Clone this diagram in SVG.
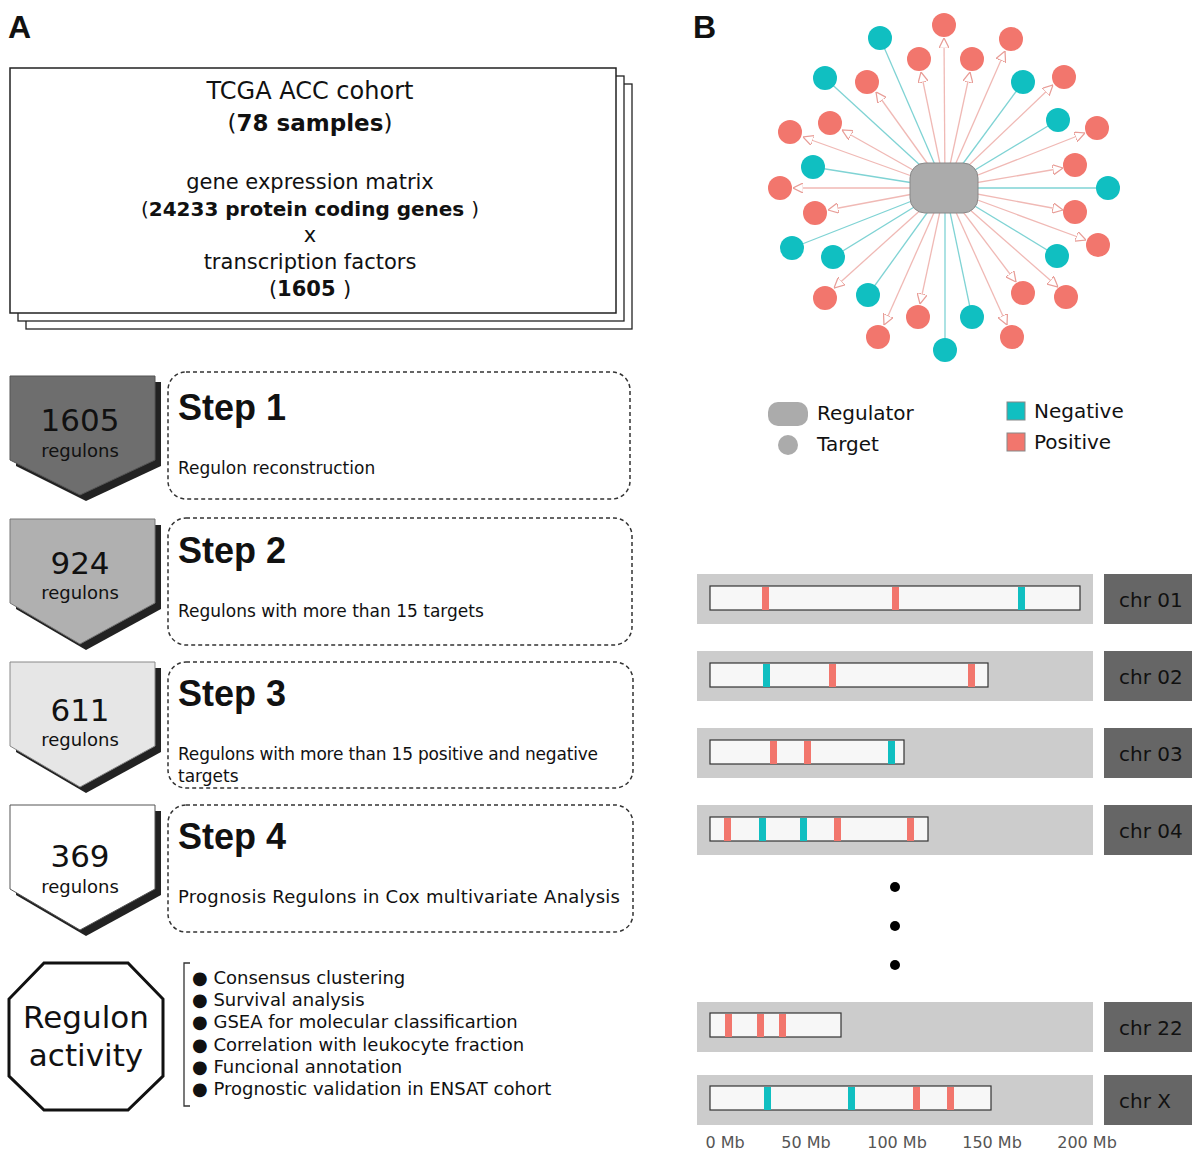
<svg xmlns="http://www.w3.org/2000/svg" width="1200" height="1158" viewBox="0 0 1200 1158">
<style>
text{font-family:"DejaVu Sans","Liberation Sans",sans-serif;fill:#111}
.b{font-weight:bold}
.h{font-family:"Liberation Sans",Arial,sans-serif;font-weight:bold}
.dash{fill:none;stroke:#333;stroke-width:1.5;stroke-dasharray:4 3}
.neg{fill:#10bfc1}.pos{fill:#f2766d}
.ln{stroke:#7fd3d4;stroke-width:1.3}.lp{stroke:#f0b9b5;stroke-width:1.3}
.bg{fill:#cccccc}.lab{fill:#666}
.chr{fill:#f7f7f7;stroke:#333;stroke-width:1.2}
</style>
<defs><marker id="ah" viewBox="0 0 10 10" refX="10" refY="5" markerWidth="8" markerHeight="8" orient="auto-start-reverse"><path d="M0,0L10,5L0,10z" fill="#fff" stroke="#e89d97" stroke-width="1.2"/></marker></defs>
<rect width="1200" height="1158" fill="#fff"/>
<text x="8" y="38" font-size="32" class="h">A</text>
<text x="693" y="38" font-size="32" class="h">B</text>
<g id="cohort">
<rect x="26" y="84" width="606" height="245" fill="#fff" stroke="#222" stroke-width="1.3"/>
<rect x="18" y="76" width="606" height="245" fill="#fff" stroke="#222" stroke-width="1.3"/>
<rect x="10" y="68" width="606" height="245" fill="#fff" stroke="#222" stroke-width="1.5"/>
<g text-anchor="middle" font-size="21">
<text x="310" y="99" font-size="24">TCGA ACC cohort</text>
<text x="310" y="131" font-size="23">(<tspan class="b">78 samples</tspan>)</text>
<text x="310" y="189">gene expression matrix</text>
<text x="310" y="216" font-size="20">(<tspan class="b">24233 protein coding genes </tspan>)</text>
<text x="310" y="242">x</text>
<text x="310" y="269">transcription   factors</text>
<text x="310" y="296">(<tspan class="b">1605 </tspan>)</text>
</g></g>
<g id="step1"><path d="M16,382H161V466L86,501L16,466z" fill="#222"/><path d="M10,376H155V460L80,495L10,460z" fill="#6e6e6e" stroke="#555"/>
<text x="80" y="431" font-size="31" text-anchor="middle">1605</text><text x="80" y="457" font-size="18" text-anchor="middle" fill="#222">regulons</text>
<rect class="dash" x="168" y="372" width="462" height="127" rx="18"/><text x="178" y="420" font-size="36" class="h">Step 1</text><text x="178" y="474" font-size="17">Regulon reconstruction</text></g>
<g id="step2"><path d="M16,525H161V609L86,650L16,609z" fill="#222"/><path d="M10,519H155V603L80,644L10,603z" fill="#b0b0b0" stroke="#777"/>
<text x="80" y="574" font-size="31" text-anchor="middle">924</text><text x="80" y="599" font-size="18" text-anchor="middle">regulons</text>
<rect class="dash" x="168" y="518" width="464" height="127" rx="18"/><text x="178" y="563" font-size="36" class="h">Step 2</text><text x="178" y="617" font-size="17">Regulons with more than 15 targets</text></g>
<g id="step3"><path d="M16,668H161V752L86,793L16,752z" fill="#222"/><path d="M10,662H155V746L80,787L10,746z" fill="#e6e6e6" stroke="#888"/>
<text x="80" y="721" font-size="31" text-anchor="middle">611</text><text x="80" y="746" font-size="18" text-anchor="middle">regulons</text>
<rect class="dash" x="168" y="662" width="465" height="126" rx="18"/><text x="178" y="706" font-size="36" class="h">Step 3</text><text x="178" y="760" font-size="17" textLength="420">Regulons with more than 15 positive and negative</text><text x="178" y="782" font-size="17">targets</text></g>
<g id="step4"><path d="M16,811H161V895L86,936L16,895z" fill="#222"/><path d="M10,805H155V889L80,930L10,889z" fill="#fff" stroke="#555"/>
<text x="80" y="867" font-size="31" text-anchor="middle">369</text><text x="80" y="893" font-size="18" text-anchor="middle">regulons</text>
<rect class="dash" x="168" y="805" width="465" height="127" rx="18"/><text x="178" y="849" font-size="36" class="h">Step 4</text><text x="178" y="903" font-size="18" textLength="442">Prognosis Regulons in Cox multivariate Analysis</text></g>
<g id="activity"><path d="M44,963H128L163,999V1076L128,1110H44L9,1076V999z" fill="#fff" stroke="#111" stroke-width="3"/>
<text x="86" y="1028" font-size="31" text-anchor="middle">Regulon</text><text x="86" y="1066" font-size="31" text-anchor="middle">activity</text>
<path d="M190,963H184V1106H190" fill="none" stroke="#333" stroke-width="1.3"/>
<g font-size="18"><text x="192" y="984">● Consensus clustering</text><text x="192" y="1006">● Survival analysis</text><text x="192" y="1028">● GSEA for molecular classificartion</text><text x="192" y="1051">● Correlation with leukocyte fraction</text><text x="192" y="1073">● Funcional annotation</text><text x="192" y="1095">● Prognostic validation in ENSAT cohort</text></g></g>
<g id="connectors">
<g class="ln"><line x1="945" y1="188" x2="880" y2="38"/><line x1="945" y1="188" x2="825" y2="78"/><line x1="945" y1="188" x2="813" y2="167"/><line x1="945" y1="188" x2="792" y2="248"/><line x1="945" y1="188" x2="833" y2="257"/><line x1="945" y1="188" x2="868" y2="295"/><line x1="945" y1="188" x2="945" y2="350"/><line x1="945" y1="188" x2="972" y2="317"/><line x1="945" y1="188" x2="1057" y2="256"/><line x1="945" y1="188" x2="1108" y2="188"/><line x1="945" y1="188" x2="1058" y2="120"/><line x1="945" y1="188" x2="1023" y2="82"/></g>
<g class="lp" marker-end="url(#ah)">
<line x1="945" y1="188" x2="944" y2="38"/><line x1="945" y1="188" x2="921" y2="72"/><line x1="945" y1="188" x2="970" y2="72"/><line x1="945" y1="188" x2="1005" y2="51"/><line x1="945" y1="188" x2="1053" y2="85"/><line x1="945" y1="188" x2="876" y2="92"/><line x1="945" y1="188" x2="842" y2="130"/><line x1="945" y1="188" x2="803" y2="137"/><line x1="945" y1="188" x2="1085" y2="133"/><line x1="945" y1="188" x2="1063" y2="168"/><line x1="945" y1="188" x2="793" y2="188"/><line x1="945" y1="188" x2="828" y2="210"/><line x1="945" y1="188" x2="1063" y2="210"/><line x1="945" y1="188" x2="1086" y2="240"/><line x1="945" y1="188" x2="834" y2="288"/><line x1="945" y1="188" x2="1058" y2="287"/><line x1="945" y1="188" x2="1016" y2="282"/><line x1="945" y1="188" x2="920" y2="304"/><line x1="945" y1="188" x2="884" y2="325"/><line x1="945" y1="188" x2="1007" y2="325"/></g>
</g>
<g id="network">
<rect x="910" y="163" width="68" height="50" rx="15" fill="#ababab" stroke="#888"/>
<g class="neg"><circle cx="880" cy="38" r="12"/><circle cx="825" cy="78" r="12"/><circle cx="813" cy="167" r="12"/><circle cx="792" cy="248" r="12"/><circle cx="833" cy="257" r="12"/><circle cx="868" cy="295" r="12"/><circle cx="945" cy="350" r="12"/><circle cx="972" cy="317" r="12"/><circle cx="1057" cy="256" r="12"/><circle cx="1108" cy="188" r="12"/><circle cx="1058" cy="120" r="12"/><circle cx="1023" cy="82" r="12"/></g>
<g class="pos"><circle cx="944" cy="25" r="12"/><circle cx="919" cy="59" r="12"/><circle cx="972" cy="59" r="12"/><circle cx="1011" cy="39" r="12"/><circle cx="1064" cy="77" r="12"/><circle cx="867" cy="82" r="12"/><circle cx="830" cy="123" r="12"/><circle cx="790" cy="132" r="12"/><circle cx="1097" cy="128" r="12"/><circle cx="1075" cy="165" r="12"/><circle cx="780" cy="188" r="12"/><circle cx="815" cy="213" r="12"/><circle cx="1075" cy="212" r="12"/><circle cx="1098" cy="245" r="12"/><circle cx="825" cy="298" r="12"/><circle cx="1066" cy="297" r="12"/><circle cx="1023" cy="293" r="12"/><circle cx="918" cy="317" r="12"/><circle cx="878" cy="337" r="12"/><circle cx="1012" cy="337" r="12"/></g>
</g>
<g id="legend" font-size="20">
<rect x="768" y="402" width="40" height="24" rx="10" fill="#ababab"/><text x="817" y="420">Regulator</text>
<circle cx="788" cy="445" r="10" fill="#ababab"/><text x="817" y="451">Target</text>
<rect x="1007" y="402" width="18" height="18" class="neg" stroke="#888"/><text x="1034" y="418">Negative</text>
<rect x="1007" y="433" width="18" height="18" class="pos" stroke="#888"/><text x="1034" y="449">Positive</text>
</g>
<g id="chromosomes" font-size="20">
<g id="chr01"><rect class="bg" x="697" y="574" width="396" height="50"/><rect class="lab" x="1104" y="574" width="88" height="50"/><text x="1119" y="607">chr 01</text><rect class="chr" x="710" y="586" width="370" height="24"/><rect class="pos" x="762" y="587" width="7" height="23"/><rect class="pos" x="892" y="587" width="7" height="23"/><rect class="neg" x="1018" y="587" width="7" height="23"/></g>
<g id="chr02"><rect class="bg" x="697" y="651" width="396" height="50"/><rect class="lab" x="1104" y="651" width="88" height="50"/><text x="1119" y="684">chr 02</text><rect class="chr" x="710" y="663" width="278" height="24"/><rect class="neg" x="763" y="664" width="7" height="23"/><rect class="pos" x="829" y="664" width="7" height="23"/><rect class="pos" x="968" y="664" width="7" height="23"/></g>
<g id="chr03"><rect class="bg" x="697" y="728" width="396" height="50"/><rect class="lab" x="1104" y="728" width="88" height="50"/><text x="1119" y="761">chr 03</text><rect class="chr" x="710" y="740" width="194" height="24"/><rect class="pos" x="770" y="741" width="7" height="23"/><rect class="pos" x="804" y="741" width="7" height="23"/><rect class="neg" x="888" y="741" width="7" height="23"/></g>
<g id="chr04"><rect class="bg" x="697" y="805" width="396" height="50"/><rect class="lab" x="1104" y="805" width="88" height="50"/><text x="1119" y="838">chr 04</text><rect class="chr" x="710" y="817" width="218" height="24"/><rect class="pos" x="724" y="818" width="7" height="23"/><rect class="neg" x="759" y="818" width="7" height="23"/><rect class="neg" x="800" y="818" width="7" height="23"/><rect class="pos" x="834" y="818" width="7" height="23"/><rect class="pos" x="907" y="818" width="7" height="23"/></g>
<circle cx="895" cy="887" r="5" fill="#000"/><circle cx="895" cy="926" r="5" fill="#000"/><circle cx="895" cy="965" r="5" fill="#000"/>
<g id="chr22"><rect class="bg" x="697" y="1002" width="396" height="50"/><rect class="lab" x="1104" y="1002" width="88" height="50"/><text x="1119" y="1035">chr 22</text><rect class="chr" x="710" y="1013" width="131" height="24"/><rect class="pos" x="725" y="1014" width="7" height="23"/><rect class="pos" x="757" y="1014" width="7" height="23"/><rect class="pos" x="779" y="1014" width="7" height="23"/></g>
<g id="chrX"><rect class="bg" x="697" y="1075" width="396" height="50"/><rect class="lab" x="1104" y="1075" width="88" height="50"/><text x="1119" y="1108">chr X</text><rect class="chr" x="710" y="1086" width="281" height="24"/><rect class="neg" x="764" y="1087" width="7" height="23"/><rect class="neg" x="848" y="1087" width="7" height="23"/><rect class="pos" x="913" y="1087" width="7" height="23"/><rect class="pos" x="947" y="1087" width="7" height="23"/></g>
<g font-size="16" text-anchor="middle"><text x="725" y="1148" style="fill:#555">0 Mb</text><text x="806" y="1148" style="fill:#555">50 Mb</text><text x="897" y="1148" style="fill:#555">100 Mb</text><text x="992" y="1148" style="fill:#555">150 Mb</text><text x="1087" y="1148" style="fill:#555">200 Mb</text></g>
</g>
</svg>
